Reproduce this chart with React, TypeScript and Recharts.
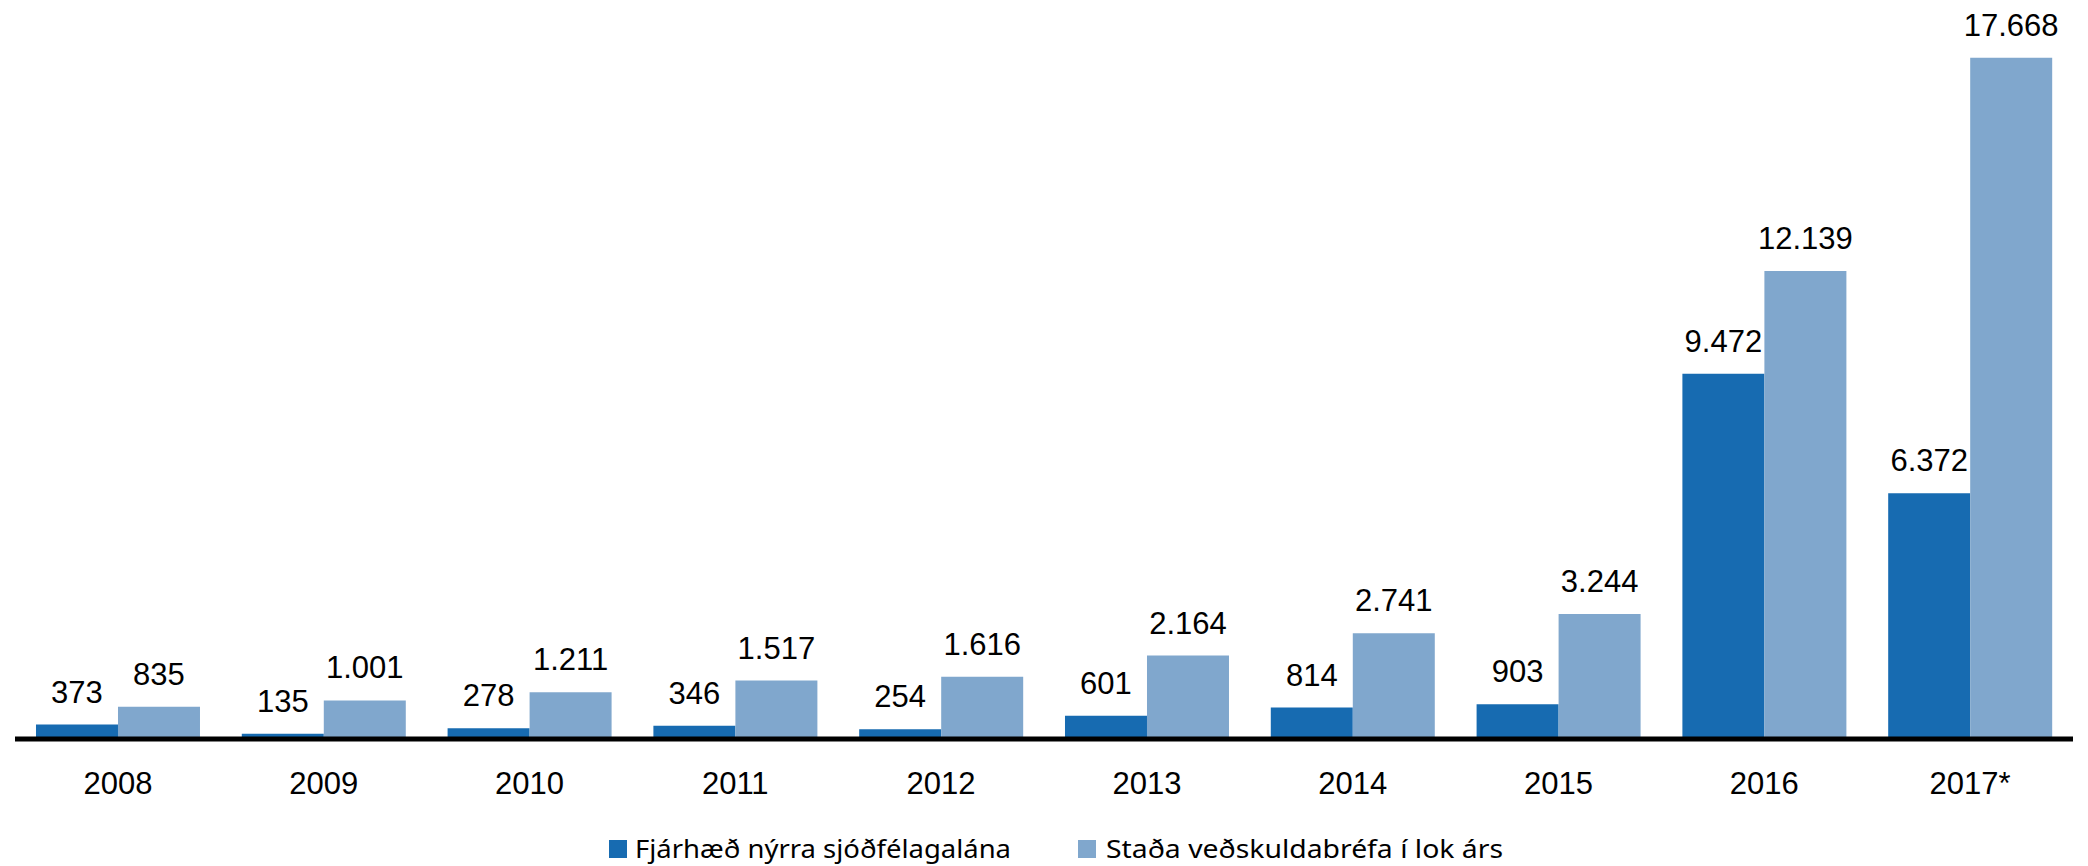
import { BarChart, Bar, XAxis, YAxis, Legend, LabelList } from 'recharts';

const years = ['2008', '2009', '2010', '2011', '2012', '2013', '2014', '2015', '2016', '2017*'];
const newLoans = [373, 135, 278, 346, 254, 601, 814, 903, 9472, 6372];
const mortgageBalance = [835, 1001, 1211, 1517, 1616, 2164, 2741, 3244, 12139, 17668];
const seriesNames = ['Fjárhæð nýrra sjóðfélagalána', 'Staða veðskuldabréfa í lok árs'];

const DARK = '#176bb1';
const LIGHT = '#80a7cd';

const data = years.map((year, i) => ({
  year,
  newLoans: newLoans[i],
  mortgageBalance: mortgageBalance[i],
}));

const fmt = (v: any) => String(v).replace(/\B(?=(\d{3})+(?!\d))/g, '.');

const LegendContent = () => (
  <svg width={900} height={43} style={{ display: 'block', overflow: 'visible' }}>
    <rect x={0} y={11} width={18} height={18} fill={DARK} />
    <text x={26} y={29} fontFamily="Noto Sans, sans-serif" fontSize={25}
      textLength={376} lengthAdjust="spacingAndGlyphs" fill="#000">{seriesNames[0]}</text>
    <rect x={469} y={11} width={18} height={18} fill={LIGHT} />
    <text x={497} y={29} fontFamily="Noto Sans, sans-serif" fontSize={25}
      textLength={397} lengthAdjust="spacingAndGlyphs" fill="#000">{seriesNames[1]}</text>
  </svg>
);

export default function App() {
  return (
    <div style={{ position: 'absolute', left: 0, top: 0, background: '#fff' }}>
      <BarChart
        width={2088}
        height={866}
        data={data}
        margin={{ top: 45, right: 15, left: 15, bottom: 0 }}
        barCategoryGap="10.2%"
        barGap={0}
      >
        <XAxis
          dataKey="year"
          axisLine={{ stroke: '#000', strokeWidth: 5 }}
          tickLine={false}
          tickMargin={27}
          height={84}
          tick={{ fill: '#000', fontSize: 31, fontFamily: 'Liberation Sans, Arial, sans-serif' }}
          interval={0}
        />
        <YAxis hide domain={[0, 18000]} />
        <Legend
          verticalAlign="bottom"
          content={<LegendContent />}
          wrapperStyle={{ left: 609, width: 900, height: 43, top: 829 }}
        />
        <Bar dataKey="newLoans" name={seriesNames[0]} fill={DARK} isAnimationActive={false}>
          <LabelList
            dataKey="newLoans"
            position="top"
            offset={22}
            formatter={fmt}
            style={{ fill: '#000', fontSize: 31, fontFamily: 'Liberation Sans, Arial, sans-serif' }}
          />
        </Bar>
        <Bar dataKey="mortgageBalance" name={seriesNames[1]} fill={LIGHT} isAnimationActive={false}>
          <LabelList
            dataKey="mortgageBalance"
            position="top"
            offset={22}
            formatter={fmt}
            style={{ fill: '#000', fontSize: 31, fontFamily: 'Liberation Sans, Arial, sans-serif' }}
          />
        </Bar>
      </BarChart>
    </div>
  );
}
